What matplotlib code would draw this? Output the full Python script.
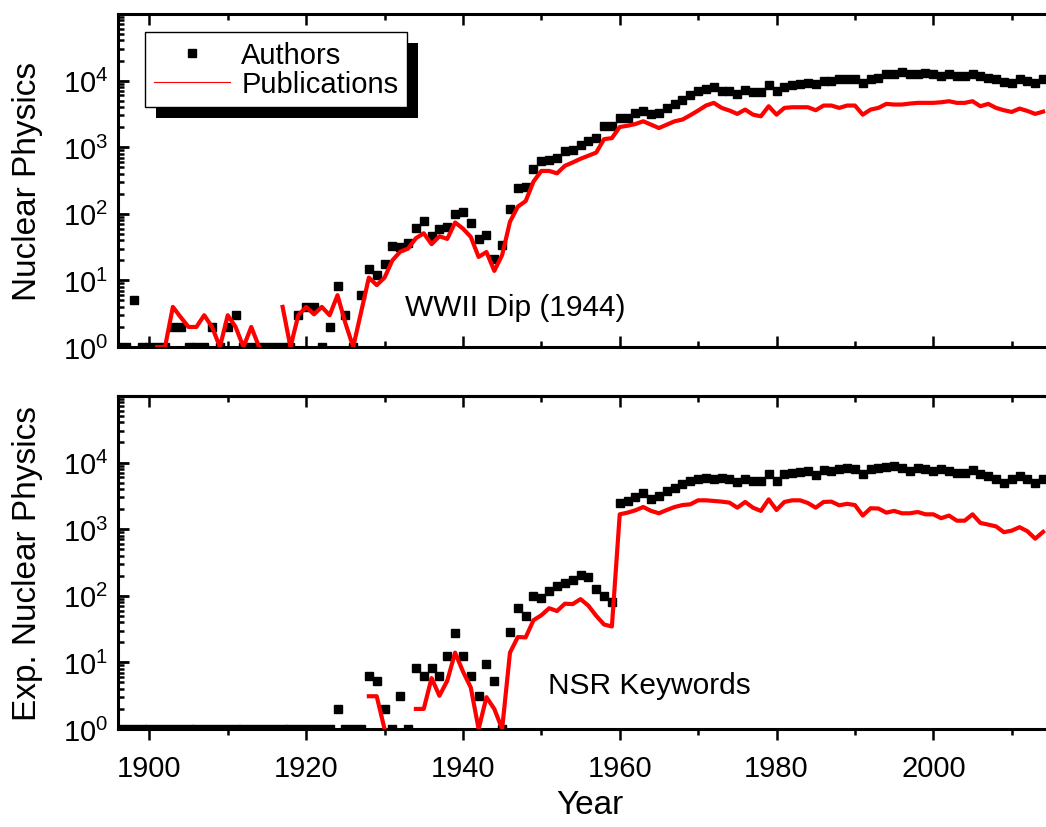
import numpy as np
import matplotlib
matplotlib.use("Agg")
import matplotlib.pyplot as plt
from matplotlib.lines import Line2D
from matplotlib import patheffects
from matplotlib.ticker import LogLocator, MultipleLocator, NullFormatter

plt.rcParams['font.family'] = ['Liberation Sans', 'DejaVu Sans']

nan = np.nan
years = np.arange(1896, 2015)

# Nuclear Physics (top panel)
np_authors = [
    1, 1, 5, 1,
    1, 1, 1, 2, 2, 1, 1, 1, 2, 1,
    2, 3, 1, 1, 1, 1, 1, 1, 1, 3,
    4, 4, 1, 2, 8.2, 3, 1, 6, 15, 12,
    17.5, 33, 32, 37, 62, 78, 47, 59, 63, 98,
    105, 74, 42, 48, 21, 34, 117, 240, 255, 470,
    610, 645, 690, 885, 920, 1070, 1250, 1370, 2060, 2060,
    2750, 2750, 3270, 3460, 3160, 3270, 3890, 4470, 5200, 6040,
    6940, 7520, 7970, 6940, 6940, 6400, 7190, 6700, 6700, 8450,
    6940, 7970, 8450, 8950, 9270, 8750, 9820, 9820, 10400, 10400,
    10650, 9270, 10400, 11000, 12400, 12400, 13400, 12400, 12400, 13100,
    12400, 11700, 12400, 11700, 11700, 12600, 11700, 11000, 10400, 9600,
    9270, 10400, 9820, 9270, 10400,
]
np_pubs = [
    nan, nan, 4, nan,
    nan, 1, 1, 4, 2.8, 2, 2, 3, 2, 1,
    3, 2, 1, 2, 1, nan, nan, 4, 1, 3,
    4, 3.1, 4, 3, 6, 2.3, 1, 3.3, 11, 8.5,
    11, 20, 27, 30, 43, 51, 35, 46, 42, 74,
    60, 45, 22.5, 26.7, 13.9, 24, 76, 128, 155, 305,
    440, 440, 405, 525, 590, 670, 745, 830, 1320, 1370,
    2010, 2100, 2230, 2450, 2180, 1940, 2180, 2450, 2600, 3020,
    3550, 4220, 4630, 3890, 3550, 3160, 3670, 3080, 2910, 4120,
    3080, 3890, 3980, 3980, 3980, 3590, 4220, 4220, 3890, 4220,
    4220, 3080, 3670, 3890, 4470, 4370, 4370, 4520, 4630, 4630,
    4630, 4730, 4900, 4630, 4630, 4900, 4120, 4470, 3890, 3590,
    3380, 3800, 3500, 3160, 3420,
]

# Exp. Nuclear Physics (bottom panel)
exp_authors = [
    1, 1, 1, 1,
    1, 1, 1, 1, 1, 1, 1, 1, 1, 1,
    1, 1, 1, 1, 1, 1, 1, 1, 1, 1,
    1, 1, 1, 1, 2, 1, 1, 1, 6.2, 5.3,
    2, 1, 3.1, 1, 8.3, 6.2, 8.3, 6.2, 12.6, 28,
    12.6, 6.2, 3.1, 9.3, 5.2, 1, 29, 65, 50, 98,
    92, 116, 141, 158, 171, 206, 192, 125, 100, 81,
    2500, 2650, 3080, 3450, 2800, 3150, 3740, 4200, 4710, 5290,
    5600, 5800, 5730, 5930, 5600, 5100, 5730, 5290, 5290, 6650,
    5290, 6650, 7050, 7200, 7470, 6430, 7730, 7470, 8090, 8380,
    7910, 6650, 7910, 8380, 8580, 8870, 8380, 7470, 8380, 8090,
    7470, 7910, 7470, 7050, 7050, 7730, 6650, 6280, 5730, 4990,
    5730, 6280, 5600, 4990, 5730,
]
exp_pubs = [
    nan, nan, nan, nan,
    nan, nan, nan, nan, nan, nan, nan, nan, nan, nan,
    nan, nan, nan, nan, nan, nan, nan, nan, nan, nan,
    nan, nan, nan, nan, nan, nan, nan, nan, 3.1, 3.1,
    1, nan, nan, nan, 2, 2, 5.8, 3.15, 5.3, 14,
    7.3, 4.2, 1, 3, 2, 1, 14, 24, 23.7, 43,
    51, 65, 59, 76, 75, 89, 71, 50, 37, 34.6,
    1670, 1770, 1920, 2150, 1880, 1730, 1940, 2150, 2300, 2360,
    2710, 2710, 2650, 2590, 2500, 2100, 2560, 2100, 1880, 2800,
    1940, 2560, 2710, 2710, 2470, 2100, 2560, 2590, 2280, 2400,
    2300, 1600, 2060, 2040, 1770, 1880, 1730, 1730, 1810, 1670,
    1670, 1460, 1600, 1340, 1340, 1670, 1240, 1170, 1100, 900,
    950, 1070, 930, 720, 910,
]

fig = plt.figure(figsize=(10.46, 8.28), dpi=100)
ax1 = fig.add_axes([0.1128, 0.5797, 0.8994, 0.4022])
ax2 = fig.add_axes([0.1128, 0.1184, 0.8994, 0.4022])


def style_axis(ax, xdir):
    ax.set_yscale('log')
    ax.set_xlim(1896, 2016)
    ax.set_ylim(1, 1e5)
    ax.xaxis.set_major_locator(MultipleLocator(20))
    ax.xaxis.set_minor_locator(MultipleLocator(10))
    ax.yaxis.set_minor_locator(LogLocator(base=10, subs=np.arange(2, 10), numticks=20))
    ax.yaxis.set_minor_formatter(NullFormatter())
    ax.set_yticks([1, 10, 100, 1000, 10000])
    for sp in ax.spines.values():
        sp.set_linewidth(2.2)
    ax.tick_params(axis='y', which='both', direction='in', left=True, right=True,
                   labelsize=21, pad=7)
    ax.tick_params(axis='y', which='major', length=8, width=2)
    ax.tick_params(axis='y', which='minor', length=4.5, width=1.8)
    ax.tick_params(axis='x', which='both', direction=xdir, top=(xdir == 'in'),
                   labelsize=21, pad=10)
    ax.tick_params(axis='x', which='major', length=8, width=1.8)
    ax.tick_params(axis='x', which='minor', length=4.5, width=1.8)


for ax, a, p in [(ax1, np_authors, np_pubs), (ax2, exp_authors, exp_pubs)]:
    ax.plot(years, a, linestyle='none', marker='s', ms=6, color='black', zorder=2)
    ax.plot(years, p, color='red', lw=3, zorder=3, solid_joinstyle='round')

style_axis(ax1, 'in')
style_axis(ax2, 'out')
ax1.tick_params(axis='x', labelbottom=False)

# inward ticks along the top edge of the lower panel
top2 = ax2.secondary_xaxis('top')
top2.xaxis.set_major_locator(MultipleLocator(20))
top2.xaxis.set_minor_locator(MultipleLocator(10))
top2.tick_params(axis='x', which='both', direction='in', labeltop=False, width=1.8)
top2.tick_params(axis='x', which='major', length=8)
top2.tick_params(axis='x', which='minor', length=4.5)
top2.spines['top'].set_linewidth(2.2)

ax1.set_ylabel('Nuclear Physics', fontsize=24, va='center')
ax1.yaxis.set_label_coords(-0.0957, 0.5)
ax2.set_ylabel('Exp. Nuclear Physics', fontsize=24, va='center')
ax2.yaxis.set_label_coords(-0.0957, 0.5)
ax2.set_xlabel('Year', fontsize=24, va='center')
ax2.xaxis.set_label_coords(0.502, -0.228)

ax1.text(0.305, 0.12, 'WWII Dip (1944)', transform=ax1.transAxes, fontsize=21.5,
         va='center', ha='left')
ax2.text(0.457, 0.132, 'NSR Keywords', transform=ax2.transAxes, fontsize=21.5,
         va='center', ha='left')

handles = [
    Line2D([], [], linestyle='none', marker='s', ms=6, color='black'),
    Line2D([], [], color='red', lw=0.8),
]
leg = ax1.legend(handles, ['Authors', 'Publications'], loc='upper left',
                 bbox_to_anchor=(0.0287, 0.946), borderaxespad=0, fontsize=21,
                 fancybox=False, framealpha=1, edgecolor='black',
                 handlelength=2.6, handletextpad=0.4, borderpad=0.3,
                 labelspacing=0.05)
leg.get_frame().set_linewidth(1)
leg.get_frame().set_path_effects([
    patheffects.SimplePatchShadow(offset=(8, -8), shadow_rgbFace='black', alpha=1),
    patheffects.Normal(),
])

fig.savefig('out.png', dpi=100)
